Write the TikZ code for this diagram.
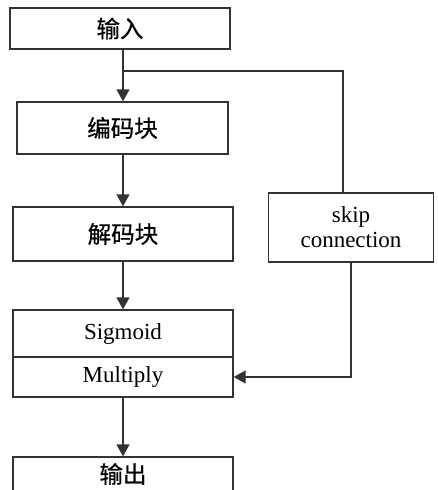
\documentclass[tikz,border=0pt]{standalone}
\usepackage{fontspec}
\setmainfont{Liberation Serif}
\newfontfamily\cjk[FakeBold=0.6]{Noto Sans CJK SC}
\usetikzlibrary{arrows.meta}
\begin{document}
\begin{tikzpicture}[x=1pt,y=-1pt,
  box/.style={draw=black!80, line width=1.3pt, rectangle, inner sep=0pt, align=center,
    font=\fontsize{23}{25}\selectfont},
  zh/.style={font=\cjk\fontsize{23.5}{25}\selectfont},
  link/.style={draw=black!80, line width=1.3pt},
  arr/.style={link, -{Triangle[length=12pt,width=13pt]}}]
\useasboundingbox (0,0) rectangle (438,490);
\node[box,zh, minimum width=220pt, minimum height=41pt] (in)  at (120,28.5) {输入};
\node[box,zh, minimum width=211pt, minimum height=52pt] (enc) at (122.5,128) {编码块};
\node[box,zh, minimum width=220pt, minimum height=54pt] (dec) at (123,234) {解码块};
\node[box, minimum width=165pt, minimum height=69pt] (skip) at (351,227.5) {skip\\connection};
\node[box, minimum width=220pt, minimum height=47pt] (sig) at (123,333.5) {Sigmoid};
\node[box, minimum width=220pt, minimum height=40pt] (mul) at (123,377) {Multiply};
\node[box,zh, minimum width=220pt, minimum height=34pt] (out) at (123,474) {输出};
\coordinate (br) at (123,71);
\coordinate (sk) at (343,71);
\draw[arr] (in.south -| br) -- (enc.north -| br);
\draw[link] (br) -- (sk) -- (sk |- skip.north);
\draw[arr] (enc.south -| br) -- (dec.north -| br);
\draw[arr] (dec.south -| br) -- (sig.north -| br);
\draw[arr] (mul.south -| br) -- (out.north -| br);
\draw[arr] (skip.south) |- (mul.east);
\end{tikzpicture}
\end{document}
